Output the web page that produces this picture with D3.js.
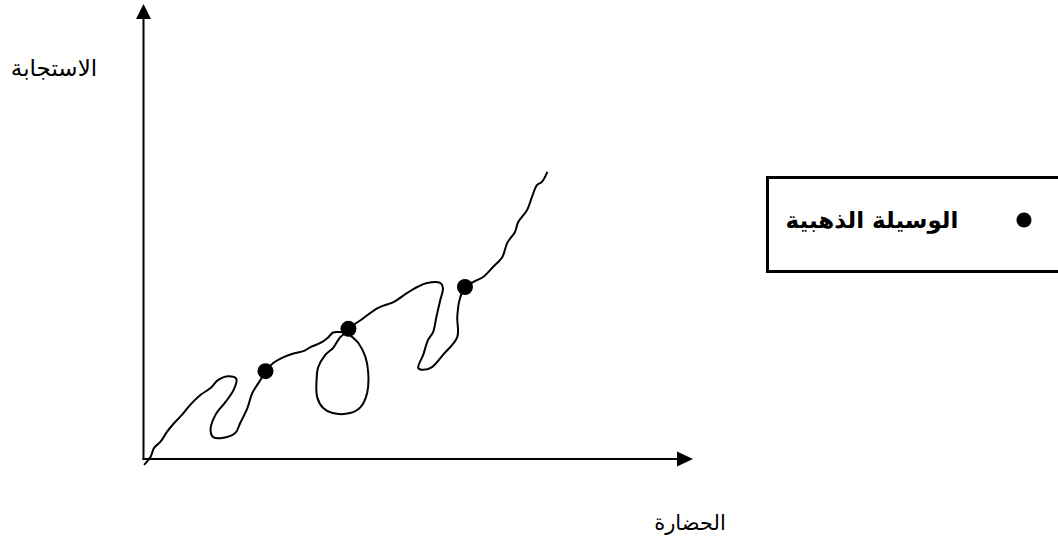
<!DOCTYPE html>
<html lang="ar">
<head>
<meta charset="utf-8">
<script src="https://cdn.jsdelivr.net/npm/d3@7"></script>
<style>
  html, body { margin: 0; padding: 0; background: #fff; }
  svg { display: block; }
  text { font-family: "DejaVu Sans", sans-serif; fill: #000; }
</style>
</head>
<body>
<svg id="chart" width="1058" height="544"></svg>
<script>
// hand-drawn response curve (0–100 units on both axes)
const curveX = [0.1, 1.3, 1.9, 3.1, 4.3, 5.5, 7.0, 8.5, 10.4, 12.2, 13.6, 15.5, 16.9, 16.4, 14.9, 13.1,
  12.2, 12.7, 14.3, 16.7, 17.6, 18.9, 19.8, 21.3, 22.2, 23.6, 25.5, 27.6, 29.1, 30.4, 32.2, 33.5,
  34.5, 35.6, 36.7, 35.8, 34.5, 33.1, 31.8, 31.5, 31.6, 32.7, 34.4, 37.6, 39.5, 40.7, 40.9, 40.4,
  39.1, 38.0, 37.3, 37.3, 38.5, 39.5, 42.7, 45.5, 48.0, 49.8, 51.6, 54.0, 54.5, 54.0, 53.3, 52.7,
  51.8, 50.9, 50.0, 50.9, 52.5, 54.5, 57.1, 57.1, 57.5, 58.5, 60.0, 61.8, 63.6, 65.3, 66.2, 67.6,
  68.2, 69.8, 70.7, 71.6, 72.5, 73.5];
const curveY = [-1.3, 0.5, 2.4, 3.8, 6.0, 7.8, 9.7, 11.9, 14.1, 15.6, 17.4, 18.2, 17.6, 15.2, 12.5, 9.7,
  6.4, 4.8, 4.6, 5.7, 7.9, 11.2, 14.5, 17.4, 19.3, 21.1, 22.4, 23.3, 23.7, 24.6, 25.5, 26.6,
  27.8, 27.9, 27.7, 26.8, 24.4, 22.9, 20.2, 17.4, 13.6, 11.2, 10.1, 10.1, 11.4, 14.5, 18.9, 22.4,
  25.5, 26.8, 27.5, 28.6, 29.7, 30.5, 33.2, 34.5, 36.5, 37.8, 38.7, 38.7, 37.6, 34.9, 31.2, 27.9,
  26.2, 22.9, 20.0, 19.6, 20.2, 22.9, 26.8, 31.2, 34.9, 37.8, 38.9, 40.0, 42.2, 44.4, 47.5, 49.9,
  52.1, 54.7, 57.6, 60.2, 60.9, 63.1];

// the three "golden mean" points on the curve
const dotX = [22.2, 37.3, 58.5];
const dotY = [19.3, 28.6, 37.8];

const yLabel = "الاستجابة";
const xLabel = "الحضارة";
const legendLabels = ["الوسيلة الذهبية"];

const svg = d3.select("#chart");

const x = d3.scaleLinear().domain([0, 100]).range([143.5, 693]);
const y = d3.scaleLinear().domain([0, 100]).range([459, 4]);

// ── Axes with arrow heads ─────────────────────────────────────
const ax = svg.append("g").attr("class", "axes");
ax.append("line")
  .attr("x1", x(0)).attr("y1", y(0) + 1)
  .attr("x2", x(0)).attr("y2", y(100) + 14)
  .attr("stroke", "#000").attr("stroke-width", 2);
ax.append("line")
  .attr("x1", x(0) - 1).attr("y1", y(0))
  .attr("x2", x(100) - 15).attr("y2", y(0))
  .attr("stroke", "#000").attr("stroke-width", 2);
ax.append("path")
  .attr("d", `M${x(0)},${y(100)} L${x(0) - 7.5},${y(100) + 15} L${x(0) + 7.5},${y(100) + 15} Z`)
  .attr("fill", "#000");
ax.append("path")
  .attr("d", `M${x(100)},${y(0)} L${x(100) - 16},${y(0) - 7.5} L${x(100) - 16},${y(0) + 7.5} Z`)
  .attr("fill", "#000");

// ── Curve ─────────────────────────────────────────────────────
const pts = curveX.map((v, i) => [v, curveY[i]]);
const line = d3.line()
  .x(d => x(d[0]))
  .y(d => y(d[1]))
  .curve(d3.curveCatmullRom.alpha(0.5));

svg.append("path")
  .datum(pts)
  .attr("d", line)
  .attr("fill", "none")
  .attr("stroke", "#000")
  .attr("stroke-width", 2)
  .attr("stroke-linejoin", "round");

svg.selectAll(".dot")
  .data(dotX.map((v, i) => [v, dotY[i]]))
  .join("circle")
  .attr("class", "dot")
  .attr("cx", d => x(d[0]))
  .attr("cy", d => y(d[1]))
  .attr("r", 8)
  .attr("fill", "#000");

// ── Axis titles ───────────────────────────────────────────────
svg.append("text")
  .attr("x", 54).attr("y", 76)
  .attr("text-anchor", "middle")
  .style("font-size", "23px")
  .text(yLabel);

svg.append("text")
  .attr("x", 690).attr("y", 530)
  .attr("text-anchor", "middle")
  .style("font-size", "21px")
  .text(xLabel);

// ── Legend ────────────────────────────────────────────────────
const leg = svg.append("g").attr("class", "legend");
leg.append("rect")
  .attr("x", 767.5).attr("y", 177.5)
  .attr("width", 400).attr("height", 94)
  .attr("fill", "none")
  .attr("stroke", "#000")
  .attr("stroke-width", 3);

leg.selectAll(".leg-row")
  .data(legendLabels)
  .join("g")
  .attr("class", "leg-row")
  .each(function (d) {
    const row = d3.select(this);
    row.append("circle")
      .attr("cx", 1024).attr("cy", 220)
      .attr("r", 7.5).attr("fill", "#000");
    row.append("text")
      .attr("x", 872).attr("y", 228)
      .attr("text-anchor", "middle")
      .style("font-size", "23px")
      .style("font-weight", "bold")
      .text(d);
  });
</script>
</body>
</html>
